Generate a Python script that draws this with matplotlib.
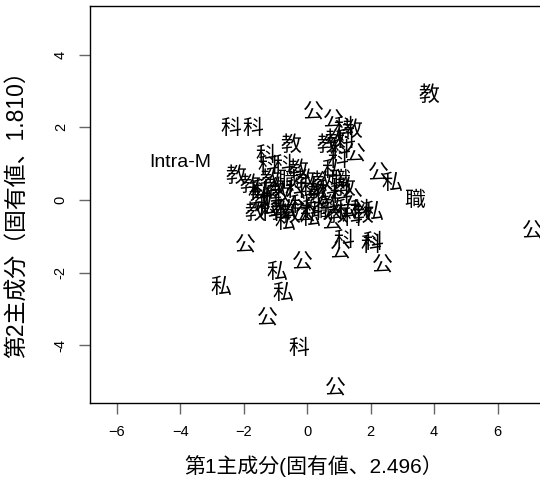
import matplotlib
matplotlib.use("Agg")
import matplotlib.pyplot as plt
import numpy as np

plt.rcParams['font.family'] = ['Liberation Sans', 'Noto Sans CJK JP']

# principal component scores (pc1, pc2) and their group labels
labels = ['教', '職', '公', '科', '科', '公', '公', '科', '教', '教', '教',
          '教', '私', '公', '私', '教', '公', '科', '公', '科', '科', '公',
          '公', '私', '私', '私', '公', '科', '公',
          '科', '科', '教', '私', '教', '職', '教', '教', '科', '私',
          '職', '公', '科', '教', '公', '私', '科', '教', '教', '私',
          '公', '科', '職', '公', '科', '教', '公', '私', '教', '科',
          '教', '科', '教', '私',
          '科', '教', '科', '私', '科', '教', '私', '教', '科', '教',
          '科', '教', '科', '教', '科']
pc1 = [3.85, 3.38, 7.10, -2.40, -1.70, 0.19, 0.82, 1.14, 1.42, -0.50, 0.63,
       -2.24, 2.68, 2.24, 2.08, -1.64, -1.96, 1.14, 1.04, 1.99, 2.08, 2.37,
       -0.16, -0.95, -0.76, -2.71, -1.26, -0.28, 0.88,
       -1.32, -1.23, -1.17, -1.42, -1.48, -0.60, -0.06, 0.47, 0.98, 0.79,
       1.04, 1.51, 1.04, -0.85, -0.38, -0.69, -0.22, 0.25, 0.73, 1.20,
       1.42, 1.67, 0.47, 0.79, -1.17, -0.54, -0.06, -0.69, 0.35, -1.10,
       -1.80, 1.04, 1.75, 0.09,
       -1.55, -1.01, -0.38, 0.09, 0.66, 1.20, -1.32, -0.85, 0.16, 0.98,
       1.42, -0.28, -0.76, 0.88, 1.20]
pc2 = [2.89, 0.00, -0.88, 1.98, 1.98, 2.40, 2.20, 2.01, 1.93, 1.52, 1.52,
       0.66, 0.47, 0.74, -0.33, -0.36, -1.24, -1.10, -1.43, -1.24, -1.15, -1.79,
       -1.71, -1.98, -2.56, -2.40, -3.25, -4.08, -5.18,
       1.24, 0.94, 0.55, 0.28, 0.00, 0.55, 0.55, 0.50, 1.10, 0.83,
       0.55, 1.24, 1.38, 0.14, 0.00, -0.28, -0.14, 0.00, -0.14, -0.28,
       0.00, -0.28, -0.33, -0.61, -0.36, -0.41, -0.41, -0.61, 0.22, 0.06,
       0.41, 0.14, -0.41, -0.50,
       0.22, 0.33, 0.28, 0.33, 0.28, 0.33, -0.19, -0.33, -0.28, -0.41,
       -0.50, 0.83, 0.96, 1.65, 1.65]

# variable label
var_name = 'Intra-M'
var_xy = (-4.0, 1.02)

xlabel = '第1主成分(固有値、2.496）'
ylabel = '第2主成分（固有値、1.810）'
xticks = [-6, -4, -2, 0, 2, 4, 6]
yticks = [-4, -2, 0, 2, 4]

fig = plt.figure(figsize=(5.4, 4.86), dpi=100)
ax = fig.add_axes([90/540, 83/486, 471/540, 397/486])
ax.set_xlim(-6.85, 8.0)
ax.set_ylim(-5.59, 5.34)

for lab, x, y in zip(labels, pc1, pc2):
    ax.text(x, y, lab, fontsize=15, ha='center', va='center',
            family=['Noto Sans CJK JP'])
ax.text(var_xy[0], var_xy[1], var_name, fontsize=14, ha='center', va='center')

ax.set_xticks(xticks)
ax.set_yticks(yticks)
ax.set_yticklabels([str(t) for t in yticks], rotation=90, va='center')
ax.tick_params(length=8, width=1, color='#666666', labelsize=10.5, pad=8)
for s in ax.spines.values():
    s.set_linewidth(1)
ax.set_xlabel(xlabel, fontsize=15)
ax.set_ylabel(ylabel, fontsize=16.5)
# the plot is cut at the right edge, so centre the x label on the visible box
ax.xaxis.set_label_coords(0.474, -0.13)
ax.yaxis.set_label_coords(-0.13, 0.49)

fig.savefig('out.png', dpi=100)
